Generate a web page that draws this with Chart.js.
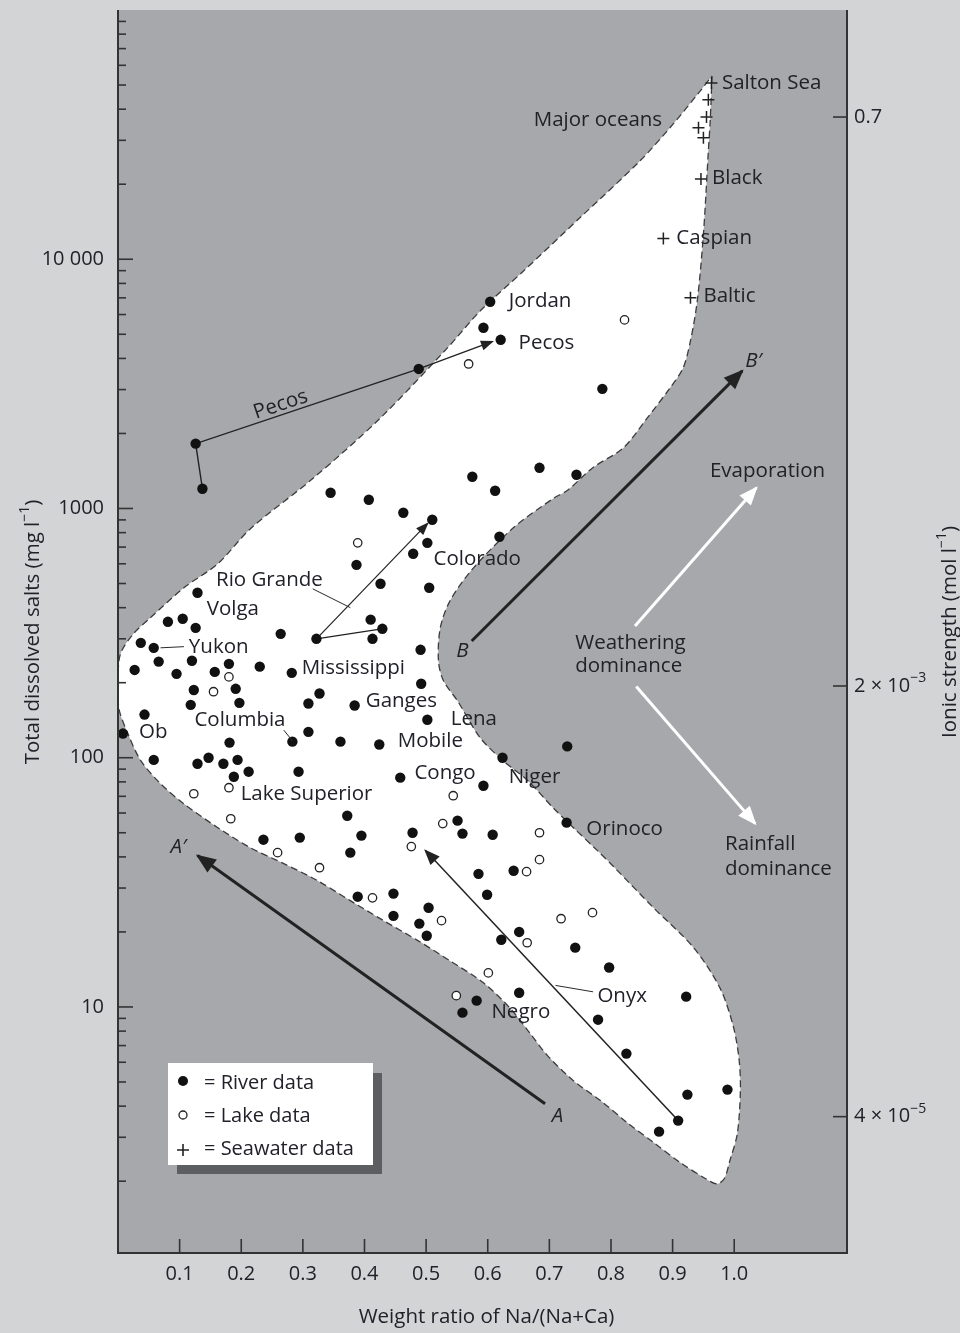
<!DOCTYPE html>
<html>
<head>
<meta charset="utf-8">
<script src="https://cdn.jsdelivr.net/npm/chart.js@4.4.0/dist/chart.umd.min.js"></script>
<style>
  html, body { margin: 0; padding: 0; background: #d3d4d6; }
  #wrap { width: 960px; height: 1333px; }
</style>
</head>
<body>
<div id="wrap"><canvas id="gibbs" width="960" height="1333"></canvas></div>
<script>
// river samples: Na/(Na+Ca) ratio and total dissolved salts (mg/l)
const riverRatio = [0.604, 0.593, 0.621, 0.488, 0.126, 0.137, 0.345, 0.407, 0.463, 0.510,
  0.575, 0.612, 0.684, 0.744, 0.786, 0.387, 0.502, 0.479, 0.619, 0.426,
  0.505, 0.410, 0.429, 0.413, 0.322, 0.491, 0.129, 0.081, 0.105, 0.126,
  0.037, 0.058, 0.066, 0.027, 0.095, 0.120, 0.157, 0.180, 0.230, 0.264,
  0.282, 0.492, 0.191, 0.123, 0.197, 0.118, 0.043, 0.008, 0.327, 0.309,
  0.384, 0.502, 0.309, 0.283, 0.361, 0.424, 0.181, 0.058, 0.129, 0.147,
  0.171, 0.194, 0.212, 0.188, 0.293, 0.458, 0.372, 0.624, 0.729, 0.593,
  0.551, 0.478, 0.559, 0.608, 0.728, 0.585, 0.642, 0.236, 0.295, 0.395,
  0.377, 0.599, 0.389, 0.447, 0.447, 0.504, 0.489, 0.501, 0.622, 0.651,
  0.582, 0.559, 0.651, 0.742, 0.797, 0.922, 0.779, 0.825, 0.924, 0.989,
  0.909, 0.878];
const riverTDS = [6750, 5310, 4750, 3630, 1820, 1200, 1156, 1084, 961, 901,
  1340, 1178, 1456, 1365, 3020, 594, 728, 658, 770, 499,
  481, 358, 329, 300, 300, 271, 459, 351, 361, 332,
  289, 276, 243, 225, 217, 245, 221, 238, 232, 314,
  219, 198, 189, 187, 166, 163, 149, 125, 181, 165,
  162, 142, 127, 116, 116, 113, 115, 98, 94.6, 100,
  94.6, 98, 87.9, 83.9, 87.9, 83.2, 58.5, 100, 111, 77.2,
  55.9, 50.0, 49.6, 49.1, 54.9, 34.2, 35.2, 46.9, 47.8, 48.7,
  41.6, 28.2, 27.7, 28.5, 23.2, 25.0, 21.6, 19.3, 18.6, 20.0,
  10.6, 9.49, 11.4, 17.3, 14.4, 11.0, 8.89, 6.50, 4.45, 4.66,
  3.50, 3.16];

// lake samples
const lakeRatio = [0.569, 0.822, 0.389, 0.180, 0.155, 0.123, 0.180, 0.183, 0.544, 0.527,
  0.684, 0.476, 0.684, 0.663, 0.259, 0.327, 0.413, 0.525, 0.664, 0.719,
  0.770, 0.601, 0.549];
const lakeTDS = [3800, 5710, 728, 211, 184, 71.7, 75.8, 56.9, 70.4, 54.4,
  50.0, 44.0, 39.0, 34.9, 41.6, 36.2, 27.4, 22.2, 18.1, 22.6,
  23.9, 13.7, 11.1];

// seawater samples
const seaRatio = [0.963, 0.958, 0.955, 0.942, 0.950, 0.946, 0.885, 0.929];
const seaTDS = [51000, 43600, 37200, 33700, 30700, 21000, 12100, 7000];

// outline of the field where world waters plot
const fieldRatio = [0.964, 0.961, 0.958, 0.950, 0.940, 0.929, 0.917, 0.896, 0.859, 0.820,
  0.771, 0.729, 0.707, 0.642, 0.577, 0.539, 0.523, 0.520, 0.528, 0.551,
  0.588, 0.625, 0.665, 0.706, 0.739, 0.778, 0.804, 0.869, 0.934, 0.977,
  0.999, 1.008, 1.010, 1.005, 0.993, 0.984, 0.972, 0.953, 0.913, 0.869,
  0.826, 0.783, 0.739, 0.697, 0.669, 0.637, 0.593, 0.539, 0.486, 0.431,
  0.377, 0.324, 0.269, 0.215, 0.162, 0.107, 0.069, 0.037, 0.016, 0.001,
  0.000, 0.004, 0.025, 0.053, 0.107, 0.162, 0.215, 0.318, 0.426, 0.535,
  0.588, 0.658, 0.750, 0.847, 0.901, 0.945, 0.964];
const fieldTDS = [54400, 35900, 27200, 12600, 6800, 4710, 3660, 3050, 2310, 1750,
  1460, 1180, 1100, 838, 578, 427, 332, 245, 204, 169,
  120, 97.3, 80.9, 63.0, 52.4, 42.4, 36.6, 25.0, 17.3, 11.9,
  8.26, 6.10, 4.61, 3.10, 2.42, 2.05, 1.95, 2.05, 2.37, 2.86,
  3.44, 4.21, 5.06, 6.38, 7.82, 9.84, 12.5, 15.3, 18.5, 22.2,
  26.7, 32.1, 37.6, 43.5, 52.4, 65.3, 78.7, 97.3, 125, 159,
  204, 261, 314, 365, 481, 600, 830, 1330, 2310, 4420,
  6210, 8970, 14700, 24800, 34900, 47400, 54400];

// trends drawn as lines / arrows
const pecosRatio = [0.137, 0.126, 0.488, 0.607];
const pecosTDS = [1200, 1820, 3630, 4670];
const coloradoRatio = [0.322, 0.502];
const coloradoTDS = [300, 869];
const rioRatio = [0.322, 0.428];
const rioTDS = [300, 329];
const onyxRatio = [0.906, 0.499];
const onyxTDS = [3.57, 42.4];
const aRatio = [0.693, 0.129];
const aTDS = [4.09, 40.5];
const bRatio = [0.574, 1.013];
const bTDS = [294, 3565];
const evapRatio = [0.839, 1.036];
const evapTDS = [338, 1211];
const rainRatio = [0.841, 1.034];
const rainTDS = [193, 54.4];
const leaders = [
  [[0.316, 476], [0.377, 400]],
  [[0.069, 276], [0.107, 279]],
  [[0.269, 129], [0.283, 117]],
  [[0.710, 12.2], [0.771, 11.5]]
];

// axis ticks
const ratioTicks = [0.1, 0.2, 0.3, 0.4, 0.5, 0.6, 0.7, 0.8, 0.9, 1.0];
const ratioLabels = ['0.1', '0.2', '0.3', '0.4', '0.5', '0.6', '0.7', '0.8', '0.9', '1.0'];
const tdsMajor = [10, 100, 1000, 10000];
const tdsLabels = ['10', '100', '1000', '10 000'];
const ionicAt = [37200, 194, 3.63];
const ionicBase = ['0.7', '2 \u00d7 10', '4 \u00d7 10'];
const ionicExp = ['', '\u22123', '\u22125'];

const FONT = '"Open Sans", "DejaVu Sans", sans-serif';
const INK = '#212129';
const W = '500 ';

const notes = [
  {t: 'Salton Sea', x: 0.980, y: 51000},
  {t: 'Major oceans', x: 0.883, y: 36200, align: 'right'},
  {t: 'Black', x: 0.964, y: 21200},
  {t: 'Caspian', x: 0.906, y: 12100},
  {t: 'Baltic', x: 0.950, y: 7130},
  {t: 'Jordan', x: 0.634, y: 6810},
  {t: 'Pecos', x: 0.650, y: 4620},
  {t: 'Pecos', x: 0.264, y: 2610, align: 'center', rot: -18.6},
  {t: 'Colorado', x: 0.512, y: 628},
  {t: 'Rio Grande', x: 0.159, y: 518},
  {t: 'Volga', x: 0.144, y: 396},
  {t: 'Yukon', x: 0.115, y: 279},
  {t: 'Mississippi', x: 0.298, y: 228},
  {t: 'Ganges', x: 0.402, y: 169},
  {t: 'Columbia', x: 0.124, y: 141},
  {t: 'Ob', x: 0.034, y: 127},
  {t: 'Lena', x: 0.540, y: 143},
  {t: 'Mobile', x: 0.454, y: 116},
  {t: 'Congo', x: 0.481, y: 87.1},
  {t: 'Niger', x: 0.634, y: 83.9},
  {t: 'Lake Superior', x: 0.199, y: 71.7},
  {t: 'Orinoco', x: 0.760, y: 51.9},
  {t: 'Onyx', x: 0.778, y: 11.1},
  {t: 'Negro', x: 0.606, y: 9.57},
  {t: 'Evaporation', x: 1.054, y: 1416, align: 'center'},
  {t: 'Weathering', x: 0.742, y: 289},
  {t: 'dominance', x: 0.742, y: 232},
  {t: 'Rainfall', x: 0.985, y: 44.8},
  {t: 'dominance', x: 0.985, y: 35.6},
  {t: 'B\u2032', x: 1.018, y: 3910, italic: true},
  {t: 'B', x: 0.559, y: 268, align: 'center', italic: true},
  {t: 'A\u2032', x: 0.098, y: 43.6, align: 'center', italic: true},
  {t: 'A', x: 0.713, y: 3.66, align: 'center', italic: true}
];

const pts = (xs, ys) => xs.map((v, i) => ({x: v, y: ys[i]}));

function trend(xs, ys, color, width, head) {
  return {
    data: pts(xs, ys), showLine: true, borderColor: color, borderWidth: width,
    pointRadius: 0, pointHoverRadius: 0, fill: false, tension: 0, head: head, order: 5
  };
}

// text with superscript pieces
function richText(ctx, parts, x, y, size, align) {
  const big = W + size + 'px ' + FONT, small = W + Math.round(size * 0.68) + 'px ' + FONT;
  let total = 0;
  parts.forEach(p => { ctx.font = p.sup ? small : big; p.w = ctx.measureText(p.t).width; total += p.w; });
  let cx = align === 'center' ? x - total / 2 : x;
  ctx.textAlign = 'left';
  parts.forEach(p => {
    ctx.font = p.sup ? small : big;
    ctx.fillText(p.t, cx, p.sup ? y - size * 0.38 : y);
    cx += p.w;
  });
}

const decor = {
  id: 'decor',
  beforeDraw(chart) {
    const {ctx, chartArea: a} = chart;
    ctx.save();
    ctx.fillStyle = '#d3d4d6';
    ctx.fillRect(0, 0, chart.width, chart.height);
    ctx.fillStyle = '#a7a8ab';
    ctx.fillRect(a.left, a.top, a.right - a.left, a.bottom - a.top);
    ctx.restore();
  },
  afterDatasetsDraw(chart) {
    const ctx = chart.ctx;
    const xs = chart.scales.x, ys = chart.scales.y;
    ctx.save();
    // leader lines for labels
    ctx.strokeStyle = '#2a2a2a';
    ctx.lineWidth = 1;
    leaders.forEach(l => {
      ctx.beginPath();
      ctx.moveTo(xs.getPixelForValue(l[0][0]), ys.getPixelForValue(l[0][1]));
      ctx.lineTo(xs.getPixelForValue(l[1][0]), ys.getPixelForValue(l[1][1]));
      ctx.stroke();
    });
    // arrow heads
    chart.data.datasets.forEach((ds, i) => {
      if (!ds.head) return;
      const el = chart.getDatasetMeta(i).data;
      const p1 = el[el.length - 2], p2 = el[el.length - 1];
      const ang = Math.atan2(p2.y - p1.y, p2.x - p1.x);
      ctx.save();
      ctx.translate(p2.x, p2.y);
      ctx.rotate(ang);
      ctx.fillStyle = ds.borderColor;
      ctx.beginPath();
      ctx.moveTo(2, 0);
      ctx.lineTo(-ds.head, -ds.head * 0.45);
      ctx.lineTo(-ds.head, ds.head * 0.45);
      ctx.closePath();
      ctx.fill();
      ctx.restore();
    });
    ctx.restore();
  },
  afterDraw(chart) {
    const {ctx, chartArea: a} = chart;
    const xs = chart.scales.x, ys = chart.scales.y;
    ctx.save();
    ctx.fillStyle = INK;
    ctx.textBaseline = 'middle';

    // annotations
    notes.forEach(n => {
      const px = xs.getPixelForValue(n.x), py = ys.getPixelForValue(n.y);
      ctx.font = (n.italic ? 'italic ' : '') + W + '20.5px ' + FONT;
      ctx.textAlign = n.align || 'left';
      if (n.rot) {
        ctx.save();
        ctx.translate(px, py);
        ctx.rotate(n.rot * Math.PI / 180);
        ctx.fillText(n.t, 0, 0);
        ctx.restore();
      } else {
        ctx.fillText(n.t, px, py);
      }
    });

    // legend box
    const lx = a.left + 50, ly = a.bottom - 190;
    ctx.fillStyle = '#5d5e62';
    ctx.fillRect(lx + 9, ly + 10, 205, 101);
    ctx.fillStyle = '#ffffff';
    ctx.fillRect(lx, ly, 205, 102);
    ctx.fillStyle = '#111';
    ctx.beginPath(); ctx.arc(lx + 15, ly + 18, 5, 0, Math.PI * 2); ctx.fill();
    ctx.strokeStyle = '#222'; ctx.lineWidth = 1.3;
    ctx.beginPath(); ctx.arc(lx + 15, ly + 52, 4, 0, Math.PI * 2); ctx.stroke();
    ctx.lineWidth = 1.6;
    ctx.beginPath();
    ctx.moveTo(lx + 9, ly + 87); ctx.lineTo(lx + 21, ly + 87);
    ctx.moveTo(lx + 15, ly + 81); ctx.lineTo(lx + 15, ly + 93);
    ctx.stroke();
    ctx.fillStyle = INK;
    ctx.font = W + '20px ' + FONT;
    ctx.textAlign = 'left';
    ctx.fillText('= River data', lx + 36, ly + 20);
    ctx.fillText('= Lake data', lx + 36, ly + 53);
    ctx.fillText('= Seawater data', lx + 36, ly + 86);

    // axes frame
    ctx.strokeStyle = '#333';
    ctx.lineWidth = 2;
    ctx.beginPath();
    ctx.moveTo(a.left, a.top); ctx.lineTo(a.left, a.bottom); ctx.lineTo(a.right, a.bottom); ctx.lineTo(a.right, a.top);
    ctx.stroke();

    // left log ticks
    ctx.lineWidth = 1.6;
    for (let k = 0; k < 5; k++) {
      for (let m = 1; m <= 9; m++) {
        const v = m * Math.pow(10, k);
        if (v < ys.min || v > ys.max) continue;
        const py = ys.getPixelForValue(v);
        ctx.beginPath();
        ctx.moveTo(a.left, py);
        ctx.lineTo(a.left + (m === 1 ? 15 : 8), py);
        ctx.stroke();
      }
    }
    ctx.fillStyle = INK;
    ctx.font = W + '20px ' + FONT;
    ctx.textAlign = 'right';
    tdsMajor.forEach((v, i) => ctx.fillText(tdsLabels[i], a.left - 14, ys.getPixelForValue(v)));

    // bottom ticks
    ctx.textAlign = 'center';
    ratioTicks.forEach((v, i) => {
      const px = xs.getPixelForValue(v);
      ctx.beginPath();
      ctx.moveTo(px, a.bottom);
      ctx.lineTo(px, a.bottom - 14);
      ctx.stroke();
      ctx.fillText(ratioLabels[i], px, a.bottom + 21);
    });

    // right ionic strength ticks
    ionicAt.forEach((v, i) => {
      const py = ys.getPixelForValue(v);
      ctx.beginPath();
      ctx.moveTo(a.right, py);
      ctx.lineTo(a.right - 14, py);
      ctx.stroke();
      richText(ctx, [{t: ionicBase[i]}, {t: ionicExp[i], sup: true}], a.right + 7, py, 20, 'left');
    });

    // axis titles
    richText(ctx, [{t: 'Weight ratio of Na/(Na+Ca)'}], (a.left + a.right) / 2 + 4, a.bottom + 64, 20.5, 'center');
    ctx.save();
    ctx.translate(33, 632);
    ctx.rotate(-Math.PI / 2);
    richText(ctx, [{t: 'Total dissolved salts (mg l'}, {t: '\u22121', sup: true}, {t: ')'}], 0, 0, 20.5, 'center');
    ctx.restore();
    ctx.save();
    ctx.translate(950, 632);
    ctx.rotate(-Math.PI / 2);
    richText(ctx, [{t: 'Ionic strength (mol l'}, {t: '\u22121', sup: true}, {t: ')'}], 0, 0, 20.5, 'center');
    ctx.restore();

    ctx.restore();
  }
};

new Chart(document.getElementById('gibbs').getContext('2d'), {
  type: 'scatter',
  data: {
    datasets: [
      {
        label: 'River data', data: pts(riverRatio, riverTDS), order: 1,
        pointStyle: 'circle', pointRadius: 5.2, backgroundColor: '#111', borderWidth: 0
      },
      {
        label: 'Lake data', data: pts(lakeRatio, lakeTDS), order: 2,
        pointStyle: 'circle', pointRadius: 4.2, backgroundColor: '#fff', borderColor: '#222', borderWidth: 1.3
      },
      {
        label: 'Seawater data', data: pts(seaRatio, seaTDS), order: 3,
        pointStyle: 'cross', pointRadius: 6, borderColor: '#222', borderWidth: 1.5
      },
      trend(pecosRatio, pecosTDS, '#222', 1.4, 11),
      trend(coloradoRatio, coloradoTDS, '#222', 1.2, 11),
      trend(rioRatio, rioTDS, '#222', 1.2, 0),
      trend(onyxRatio, onyxTDS, '#222', 1.5, 14),
      trend(aRatio, aTDS, '#222', 3, 18),
      trend(bRatio, bTDS, '#222', 3, 18),
      trend(evapRatio, evapTDS, '#ffffff', 3, 17),
      trend(rainRatio, rainTDS, '#ffffff', 3, 17),
      {
        label: 'field', data: pts(fieldRatio, fieldTDS), order: 10, showLine: true,
        fill: 'shape', backgroundColor: '#ffffff', borderColor: '#3c3c3c', borderWidth: 1.3,
        borderDash: [7, 4], tension: 0.3, pointRadius: 0, pointHoverRadius: 0
      }
    ]
  },
  options: {
    responsive: false,
    animation: false,
    events: [],
    layout: {padding: {left: 118, right: 113, top: 10, bottom: 80}},
    scales: {
      x: {type: 'linear', min: 0, max: 1.183, display: false},
      y: {type: 'logarithmic', min: 1.03, max: 100000, display: false}
    },
    plugins: {legend: {display: false}, tooltip: {enabled: false}}
  },
  plugins: [decor]
});
</script>
</body>
</html>
